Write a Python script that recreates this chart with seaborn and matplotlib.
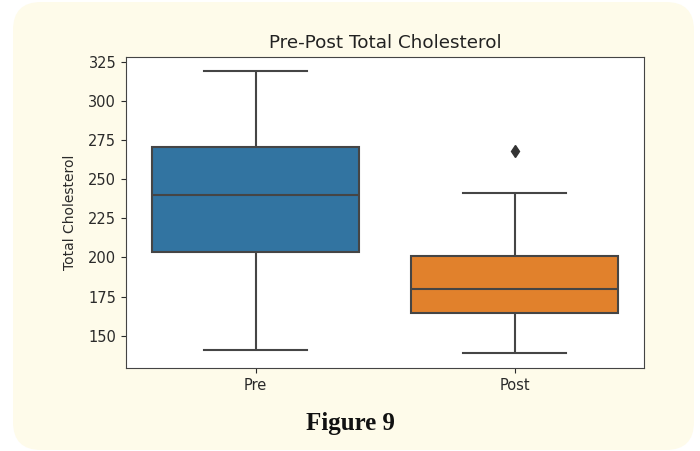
import numpy as np
import pandas as pd
import seaborn as sns
import matplotlib.pyplot as plt
from matplotlib.patches import FancyBboxPatch

# values (quartiles, whiskers, one outlier)
pre_values = [141, 180, 203.5, 225, 240, 255, 270.5, 290, 319]
post_values = [139, 155, 164.5, 172, 180, 190, 201, 241, 268]
groups = ['Pre', 'Post']
box_colors = ['#3274a1', '#e1812c']

df = pd.DataFrame({
    'group': ['Pre'] * len(pre_values) + ['Post'] * len(post_values),
    'Total Cholesterol': pre_values + post_values,
})

plt.rcParams['font.family'] = ['DejaVu Sans']
fig = plt.figure(figsize=(7, 4.51), dpi=100)
fig.patch.set_facecolor('white')

# cream rounded panel behind the chart
panel = FancyBboxPatch((0.13, 0.01), 6.81, 4.48,
                       boxstyle='round,pad=0,rounding_size=0.28',
                       transform=fig.dpi_scale_trans,
                       facecolor='#fefbea', edgecolor='none', zorder=-10)
fig.patches.append(panel)

ax = fig.add_axes([0.18, 0.184, 0.74, 0.69])
sns.boxplot(data=df, x='group', y='Total Cholesterol', order=groups,
            hue='group', hue_order=groups, palette=box_colors, legend=False,
            saturation=1, width=0.8, linecolor='#454545', linewidth=1.5,
            flierprops=dict(marker='d', markerfacecolor='#333333',
                            markeredgecolor='#333333', markersize=6),
            ax=ax)

ax.set_ylim(129.4, 328)
ax.set_yticks([150, 175, 200, 225, 250, 275, 300, 325])
ax.set_xlabel('')
ax.set_ylabel('Total Cholesterol', fontsize=10, color='#2a2a2a', labelpad=8)
ax.set_title('Pre-Post Total Cholesterol', fontsize=13.2, color='#222222')
ax.tick_params(labelsize=10.5, colors='#2a2a2a')
for s in ax.spines.values():
    s.set_color('#444444')

fig.text(0.5, 0.062, 'Figure 9', ha='center', va='center',
         fontsize=18, fontweight='bold', family=['Liberation Serif'],
         color='#111111')

plt.savefig('out.png', dpi=100)
